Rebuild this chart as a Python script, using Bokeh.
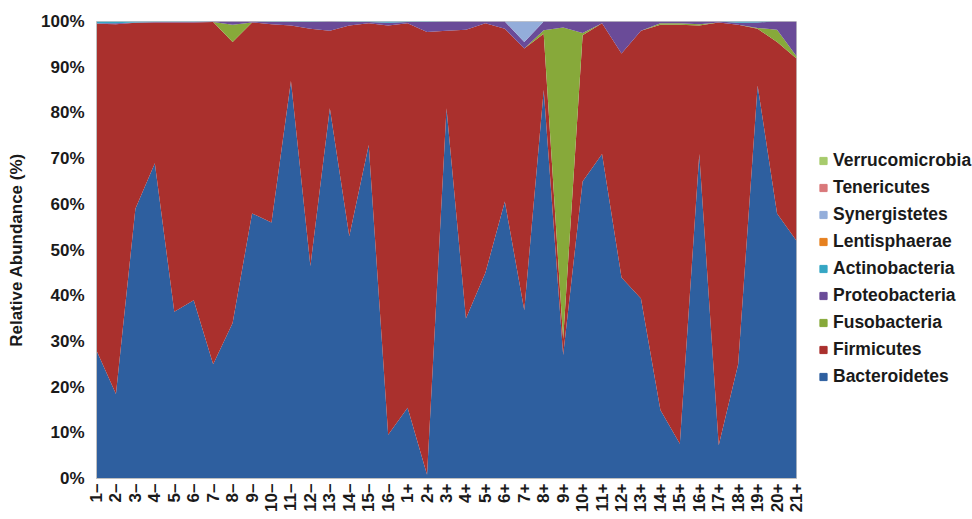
import numpy as np
from bokeh.plotting import figure
from bokeh.models import (Range1d, FixedTicker, PrintfTickFormatter, Legend,
                          LegendItem, ColumnDataSource)
from bokeh.embed import file_html
from bokeh.resources import INLINE

labels = ["1–", "2–", "3–", "4–", "5–", "6–", "7–", "8–", "9–", "10–", "11–", "12–",
          "13–", "14–", "15–", "16–",
          "1+", "2+", "3+", "4+", "5+", "6+", "7+", "8+", "9+", "10+", "11+", "12+",
          "13+", "14+", "15+", "16+", "17+", "18+", "19+", "20+", "21+"]

bacteroidetes = [28, 18.5, 59, 69, 36.5, 39, 25, 34, 58, 56, 87, 46.5, 81, 53, 73, 9.6,
                 15.5, 0.8, 81, 35, 45, 60.6, 36.8, 85, 27, 65, 71, 44, 39.4, 15, 7.6,
                 71, 7.3, 25, 86, 58, 52]
firmicutes = [71.5, 80.9, 40.7, 30.8, 63.3, 60.8, 74.9, 61.5, 41.8, 43.4, 12.1, 51.9,
              17, 46.1, 26.6, 89.5,
              84.1, 96.9, 17, 63.2, 54.6, 37.8, 57.3, 12.3, 3.5, 32, 28.6, 49, 58.6,
              84.3, 91.7, 28.1, 92.5, 74.3, 12.4, 37.5, 39.9]
fusobacteria = [0, 0, 0, 0, 0, 0, 0, 3.8, 0, 0, 0, 0, 0, 0, 0, 0,
                0, 0, 0, 0, 0, 0, 0, 0.8, 68.2, 0.5, 0, 0, 0, 0.3, 0.3, 0.3, 0, 0,
                0.2, 2.7, 0.5]
proteobacteria = [0.1, 0.2, 0.1, 0.1, 0.1, 0.1, 0.1, 0.7, 0.2, 0.5, 0.8, 1.5, 2, 0.8,
                  0.3, 0.6,
                  0.3, 2.2, 2, 1.8, 0.4, 1.6, 1.4, 1.9, 1.3, 2.5, 0.4, 7, 2, 0.4, 0.4,
                  0.6, 0.2, 0.4, 1.2, 1.8, 7.6]
actinobacteria = [0.4, 0.4, 0.2, 0.1, 0.1, 0.1, 0, 0, 0, 0.1, 0.1, 0.1, 0, 0.1, 0.1,
                  0.3,
                  0.1, 0.1, 0, 0, 0, 0, 0, 0, 0, 0, 0, 0, 0, 0, 0, 0, 0, 0.3, 0.2, 0, 0]
lentisphaerae = [0] * 37
synergistetes = [0] * 22 + [4.5] + [0] * 14
tenericutes = [0] * 37
verrucomicrobia = [0] * 37

series_names = ["Bacteroidetes", "Firmicutes", "Fusobacteria", "Proteobacteria",
                "Actinobacteria", "Lentisphaerae", "Synergistetes", "Tenericutes",
                "Verrucomicrobia"]
series_values = [bacteroidetes, firmicutes, fusobacteria, proteobacteria,
                 actinobacteria, lentisphaerae, synergistetes, tenericutes,
                 verrucomicrobia]
colors = ["#2E5F9F", "#AA302D", "#87A93A", "#6A4B98", "#35A6C4", "#E6801F",
          "#93ADDA", "#D9787A", "#A7CB6C"]

y_ticks = [0, 10, 20, 30, 40, 50, 60, 70, 80, 90, 100]

x = list(range(len(labels)))
data = {"x": x}
for n, v in zip(series_names, series_values):
    data[n] = v
source = ColumnDataSource(data)

FONT = "Liberation Sans"

p = figure(output_backend="svg", toolbar_location=None,
           frame_width=700, frame_height=457,
           min_border_left=96, min_border_top=21, min_border_right=176,
           min_border_bottom=41,
           x_range=Range1d(0, len(labels) - 1), y_range=Range1d(0, 100))

renderers = p.varea_stack(stackers=series_names, x="x", color=colors, source=source)

# legend proxies (small squares)
legend_items = []
for n, c in zip(series_names, colors):
    r = p.scatter(x=[-100], y=[-100], marker="square", size=8, color=c)
    legend_items.append(LegendItem(label=n, renderers=[r]))
legend_items = legend_items[::-1]

legend = Legend(items=legend_items, location=(18, 88), orientation="vertical",
                glyph_width=18, glyph_height=27, label_height=27,
                spacing=0, padding=0, margin=0, label_standoff=1,
                label_text_font=FONT, label_text_font_style="bold",
                label_text_font_size="17.5px", label_text_color="#1a1a1a",
                background_fill_alpha=0, border_line_color=None)
p.add_layout(legend, "right")

p.xgrid.visible = False
p.ygrid.visible = False
p.outline_line_color = "#c8c8c8"
p.background_fill_color = "white"

p.xaxis.ticker = FixedTicker(ticks=x)
p.xaxis.major_label_overrides = {i: l for i, l in enumerate(labels)}
p.xaxis.major_label_orientation = np.pi / 2
p.xaxis.major_label_text_font = FONT
p.xaxis.major_label_text_font_style = "bold"
p.xaxis.major_label_text_font_size = "17px"
p.xaxis.major_label_text_color = "#1a1a1a"
p.xaxis.major_label_standoff = 5
p.xaxis.major_tick_out = 0
p.xaxis.major_tick_in = 0
p.xaxis.minor_tick_out = 0
p.xaxis.minor_tick_in = 0
p.xaxis.major_tick_line_color = None
p.xaxis.minor_tick_line_color = None
p.xaxis.axis_line_color = "#bfbfbf"

p.yaxis.ticker = FixedTicker(ticks=y_ticks)
p.yaxis.formatter = PrintfTickFormatter(format="%d%%")
p.yaxis.major_label_text_font = FONT
p.yaxis.major_label_text_font_style = "bold"
p.yaxis.major_label_text_font_size = "17px"
p.yaxis.major_label_text_color = "#1a1a1a"
p.yaxis.major_label_standoff = 12
p.yaxis.major_tick_out = 0
p.yaxis.major_tick_in = 0
p.yaxis.minor_tick_out = 0
p.yaxis.minor_tick_in = 0
p.yaxis.major_tick_line_color = None
p.yaxis.minor_tick_line_color = None
p.yaxis.axis_line_color = "#bfbfbf"
p.yaxis.axis_label = "Relative Abundance (%)"
p.yaxis.axis_label_text_font = FONT
p.yaxis.axis_label_text_font_style = "bold"
p.yaxis.axis_label_text_font_size = "17px"
p.yaxis.axis_label_text_color = "#1a1a1a"
p.yaxis.axis_label_standoff = 12

open("out.html", "w").write(file_html(p, INLINE))
